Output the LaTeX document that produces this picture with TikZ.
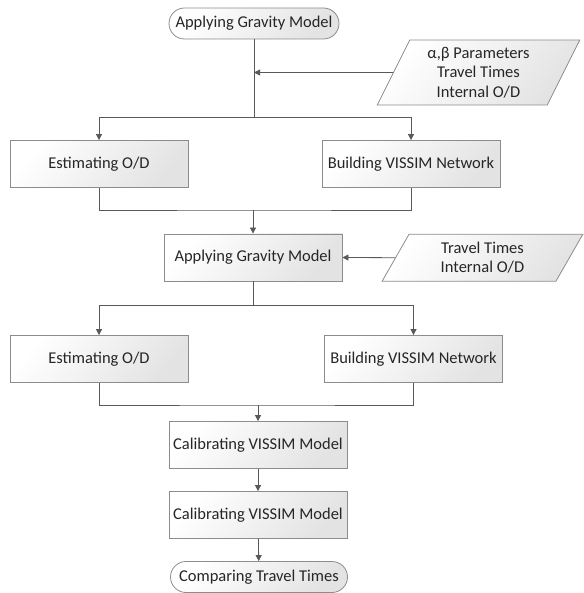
\documentclass[tikz,border=0pt]{standalone}
\usepackage{fontspec}
\setmainfont{Carlito}
\usepackage{tikz}
\usetikzlibrary{calc,shapes.geometric,arrows.meta}
\definecolor{linegray}{HTML}{595959}
\definecolor{boxgray}{HTML}{8C8C8C}
\definecolor{textgray}{HTML}{262626}
\tikzset{
% Node styles for the flow chart: process, terminal and data
process node/.style={rectangle,draw=boxgray,line width=0.8,left color=white,right color=black!11,
  shading angle=50,minimum width=178,minimum height=47,inner sep=2,text=textgray},
terminal node/.style={process node,rounded corners=15.5,minimum height=31},
data node/.style={trapezium,trapezium left angle=65,trapezium right angle=115,
  trapezium stretches=true,draw=boxgray,line width=0.8,left color=white,right color=black!11,
  shading angle=50,align=center,inner sep=1,text=textgray},
flow line/.style={draw=linegray,line width=0.8},
flow arrow/.style={flow line,-{Triangle[length=6,width=6]}}
}

\begin{document}
\begin{tikzpicture}[x=1pt,y=-1pt,font=\fontsize{16.5}{19.5}\selectfont]
      \useasboundingbox (0,0) rectangle (583,593);
      % Upper part of the chart
      \node(start)[terminal node,minimum width=170] at (254,23.5) {Applying Gravity Model};
      \node(in1)[data node,minimum width=203,minimum height=65] at (478.5,72.5)
        {α,β Parameters\\Travel Times\\Internal O/D};
      \node(est1)[process node] at (99,164) {Estimating O/D};
      \node(bld1)[process node] at (411,164) {Building VISSIM Network};
      % Middle part
      \node(grav)[process node] at (253,257.5) {Applying Gravity Model};
      \node(in2)[data node,minimum width=201,minimum height=47] at (482.5,257.7)
        {Travel Times\\Internal O/D};
      \node(est2)[process node] at (99,359) {Estimating O/D};
      \node(bld2)[process node] at (413.5,359) {Building VISSIM Network};
      % Lower part
      \node(cal1)[process node] at (258,445) {Calibrating VISSIM Model};
      \node(cal2)[process node] at (258,515) {Calibrating VISSIM Model};
      \node(end)[terminal node,minimum width=177] at (259,577) {Comparing Travel Times};
      % junctions of the connectors
      \coordinate (s1) at (254,117);
      \coordinate (m1) at (253,210);
      \coordinate (s2) at (253,305);
      \coordinate (m2) at (258,405);
      % connectors
      \draw[flow line] (start.south) -- (s1);
      \draw[flow arrow] (s1) -| (est1.north);
      \draw[flow arrow] (s1) -| (bld1.north);
      \draw[flow arrow] (in1.west) -- (in1.west -| start.south);
      \draw[flow line] (est1.south) |- (m1) -| (bld1.south);
      \draw[flow arrow] (m1) -- (grav.north);
      \draw[flow arrow] (in2.west) -- (grav.east);
      \draw[flow line] (grav.south) -- (s2);
      \draw[flow arrow] (s2) -| (est2.north);
      \draw[flow arrow] (s2) -| (bld2.north);
      \draw[flow line] (est2.south) |- (m2) -| (bld2.south);
      \draw[flow arrow] (m2) -- (cal1.north);
      \draw[flow arrow] (cal1) -- (cal2);
      \draw[flow arrow] (cal2) -- (end);
    \end{tikzpicture}
\end{document}
